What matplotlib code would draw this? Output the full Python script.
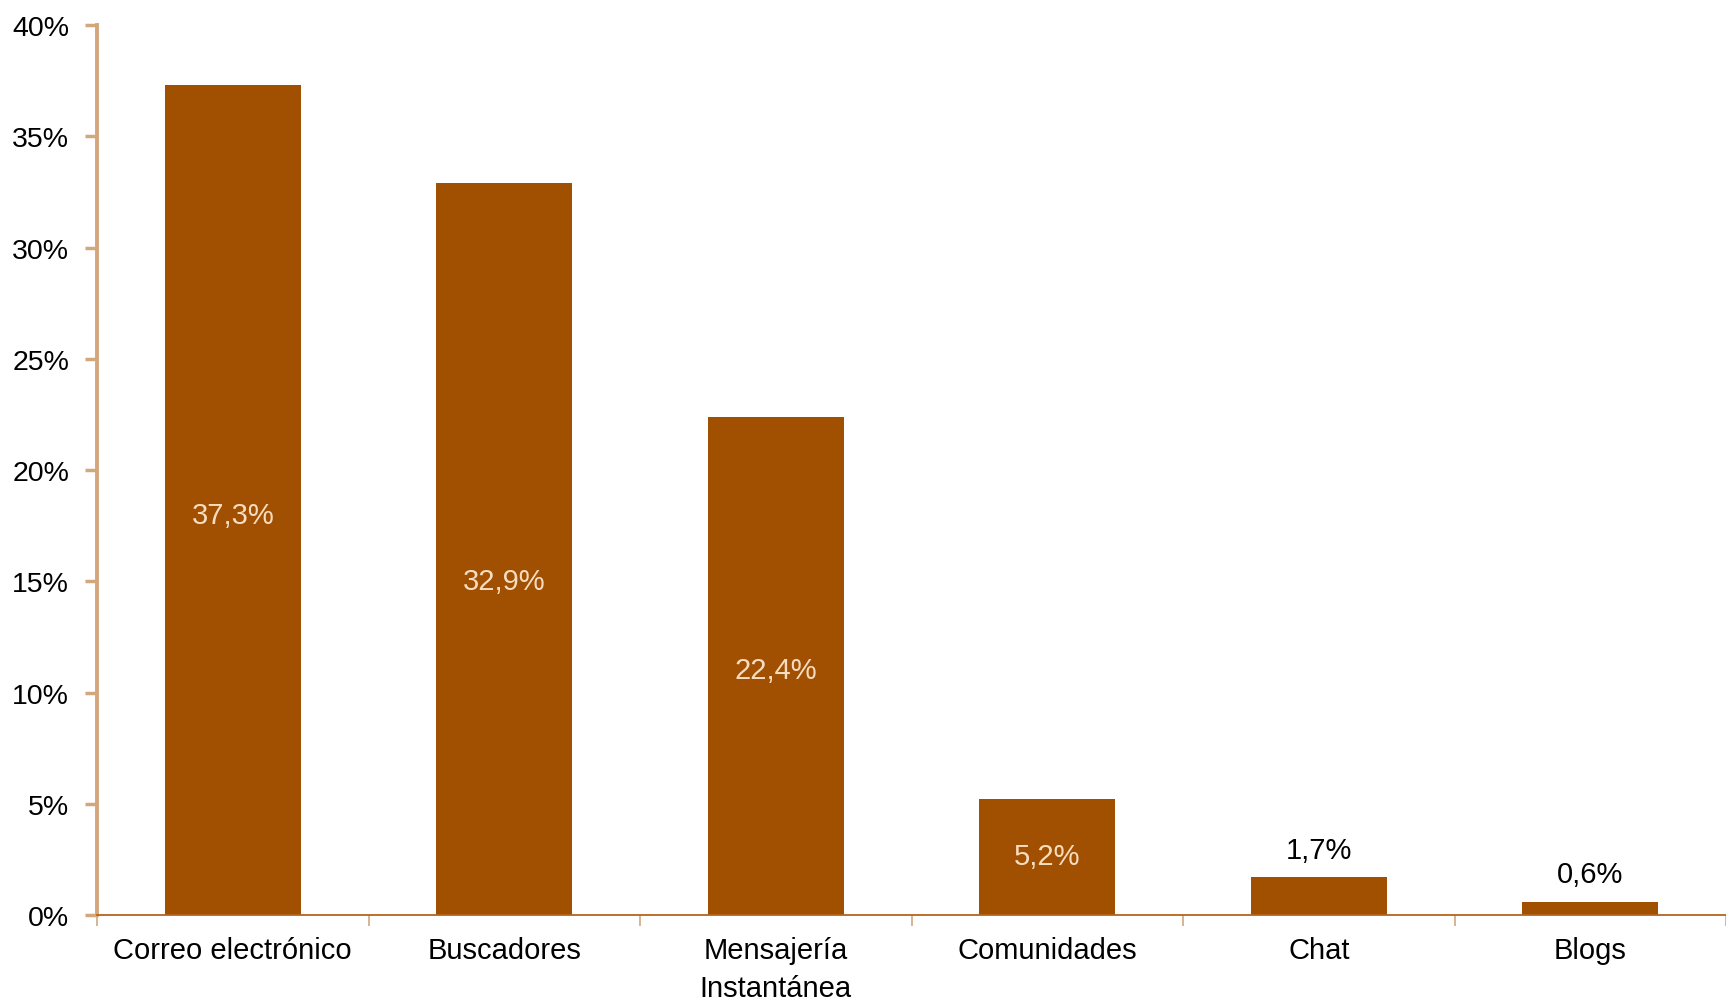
import matplotlib
matplotlib.use('Agg')
import matplotlib.pyplot as plt
from matplotlib.ticker import MultipleLocator, FuncFormatter, FixedLocator

plt.rcParams['font.family'] = ['Liberation Sans', 'DejaVu Sans']

categorias = ['Correo electrónico', 'Buscadores', 'Mensajería\nInstantánea',
              'Comunidades', 'Chat', 'Blogs']
valores = [37.3, 32.9, 22.4, 5.2, 1.7, 0.6]
etiquetas = ['37,3%', '32,9%', '22,4%', '5,2%', '1,7%', '0,6%']

# desplazamiento vertical de las etiquetas interiores respecto al centro
ajuste = [-0.65, -1.45, -0.2, 0.07, 0, 0]

barra = '#A05000'
eje_y = '#D2A77D'
eje_x = '#B5651D'

fig = plt.figure(figsize=(17.26, 10.03), dpi=100)
ax = fig.add_axes([0.0562, 0.0867, 0.9438, 0.8873])

x = range(len(valores))
ax.bar(x, valores, width=0.5, color=barra, zorder=2)

for i, (v, t) in enumerate(zip(valores, etiquetas)):
    if v > 4:
        ax.text(i, v / 2 + ajuste[i], t, ha='center', va='center',
                fontsize=21, color='#F8DCC0')
    else:
        ax.text(i, v + 0.6, t, ha='center', va='bottom', fontsize=21,
                color='black')

ax.set_xlim(-0.5, 5.5)
ax.set_ylim(0, 40)
ax.yaxis.set_major_locator(MultipleLocator(5))
ax.yaxis.set_major_formatter(FuncFormatter(lambda v, p: f'{v:.0f}%'))

ax.set_xticks(list(x))
ax.set_xticklabels(categorias, fontsize=21, linespacing=1.45)
ax.xaxis.set_minor_locator(FixedLocator([i - 0.5 for i in range(7)]))
ax.tick_params(axis='x', which='major', length=0, pad=15)
ax.tick_params(axis='x', which='minor', length=8, width=1.2, color=eje_y)
ax.tick_params(axis='y', labelsize=20.5, length=9, width=2.5, color=eje_y,
               pad=11)

for s in ['top', 'right']:
    ax.spines[s].set_visible(False)
ax.spines['left'].set_color(eje_y)
ax.spines['left'].set_linewidth(2.8)
ax.spines['bottom'].set_color(eje_x)
ax.spines['bottom'].set_linewidth(1.3)
ax.spines['bottom'].set_zorder(3)

fig.savefig('out.png', dpi=100)
